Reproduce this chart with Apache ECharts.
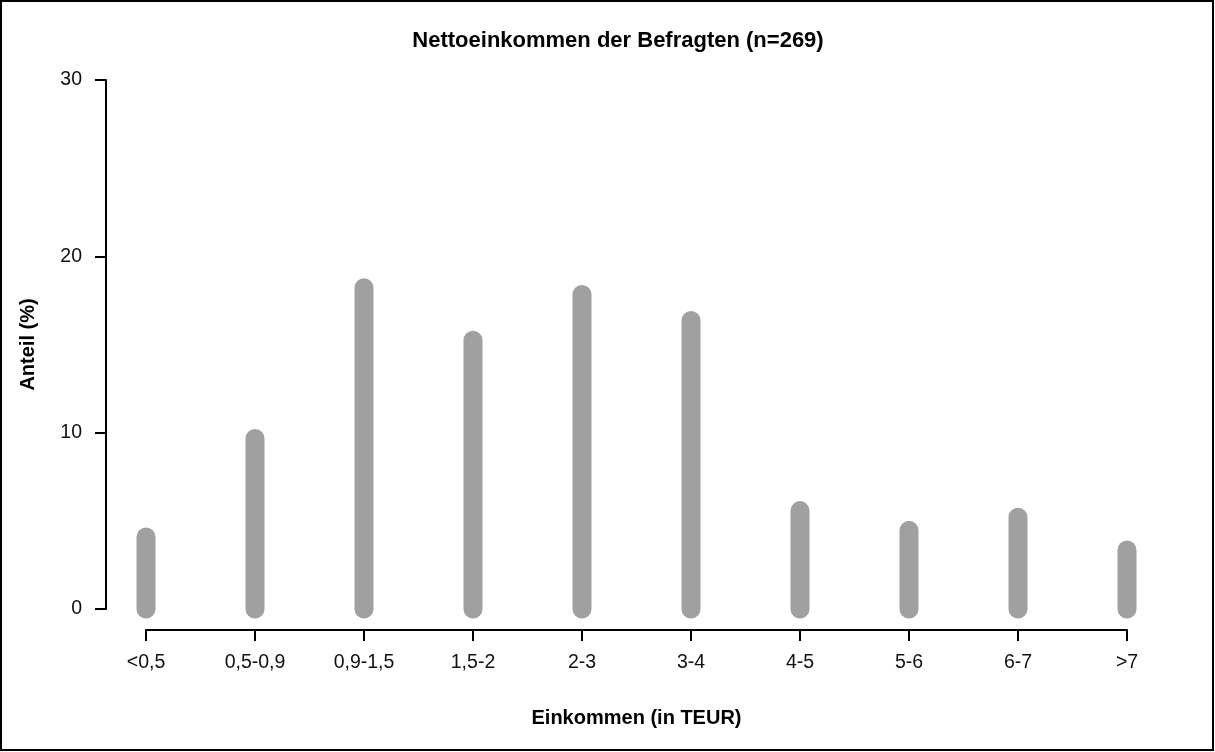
<!DOCTYPE html>
<html>
<head>
<meta charset="utf-8">
<script src="https://cdn.jsdelivr.net/npm/echarts@6/dist/echarts.min.js"></script>
<style>
html,body{margin:0;padding:0;background:#fff;}
#chart{width:1215px;height:752px;}
</style>
</head>
<body>
<div id="chart"></div>
<script>
// Data
const titleText = 'Nettoeinkommen der Befragten (n=269)';
const categories = ['<0,5','0,5-0,9','0,9-1,5','1,5-2','2-3','3-4','4-5','5-6','6-7','>7'];
const shares = [4.09, 9.67, 18.22, 15.24, 17.84, 16.36, 5.58, 4.46, 5.20, 3.35];
const yTicks = [0, 10, 20, 30];
const xTitle = 'Einkommen (in TEUR)';
const yTitle = 'Anteil (%)';

const chart = echarts.init(document.getElementById('chart'));
const font = '"Liberation Sans", Arial, sans-serif';

chart.setOption({
  animation: false,
  backgroundColor: '#ffffff',
  title: {
    text: titleText,
    left: 613, top: 25,
    textAlign: 'center',
    textStyle: {fontFamily: font, fontSize: 22, fontWeight: 'bold', color: '#000'}
  },
  graphic: [{
    type: 'rect',
    shape: {x: 1, y: 1, width: 1212, height: 749},
    style: {fill: 'none', stroke: '#000', lineWidth: 2},
    silent: true
  }],
  grid: {left: 146, right: 88, top: 80, bottom: 143, containLabel: false},
  xAxis: {
    type: 'category',
    data: categories,
    boundaryGap: false,
    offset: 21,
    name: xTitle,
    nameLocation: 'middle',
    nameGap: 78,
    nameTextStyle: {fontFamily: font, fontSize: 20, fontWeight: 'bold', color: '#000'},
    axisLine: {show: true, onZero: false, lineStyle: {color: '#000', width: 2}},
    axisTick: {show: true, length: 11, lineStyle: {color: '#000', width: 2}},
    axisLabel: {fontFamily: font, fontSize: 19.5, color: '#111', margin: 23, interval: 0},
    splitLine: {show: false}
  },
  yAxis: {
    type: 'value',
    min: yTicks[0], max: yTicks[yTicks.length - 1], interval: 10,
    offset: 40,
    name: yTitle,
    nameLocation: 'middle',
    nameRotate: 90,
    nameGap: 68,
    nameTextStyle: {fontFamily: font, fontSize: 20, fontWeight: 'bold', color: '#000'},
    axisLine: {show: true, onZero: false, lineStyle: {color: '#000', width: 2}},
    axisTick: {show: true, length: 11, lineStyle: {color: '#000', width: 2}},
    axisLabel: {fontFamily: font, fontSize: 19.5, color: '#111', margin: 24},
    splitLine: {show: false}
  },
  series: [{
    type: 'custom',
    data: shares.map((v, i) => [i, v]),
    renderItem: function (params, api) {
      const p0 = api.coord([api.value(0), 0]);
      const p1 = api.coord([api.value(0), api.value(1)]);
      return {
        type: 'line',
        shape: {x1: p0[0], y1: p0[1], x2: p1[0], y2: p1[1]},
        style: {stroke: '#a0a0a0', lineWidth: 19, lineCap: 'round'}
      };
    }
  }]
});
</script>
</body>
</html>
